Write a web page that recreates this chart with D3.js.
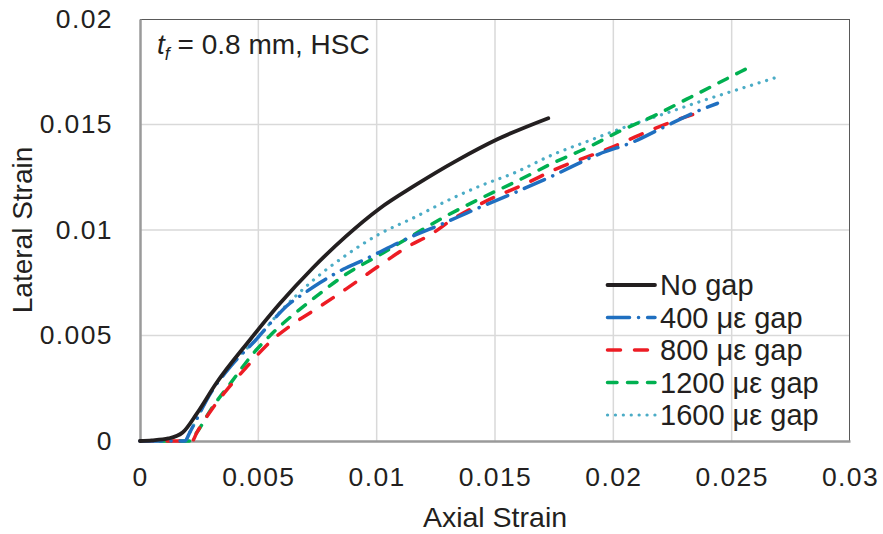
<!DOCTYPE html>
<html>
  <head>
    <meta http-equiv="Content-Type" content="text/html;charset=utf-8">
    <title>Axial vs lateral strain</title>
    <script src="https://d3js.org/d3.v7.min.js"></script>
    <style>
      html, body {
        margin: 0;
        padding: 0;
        background: #fff;
      }
      text {
        font-family: "Liberation Sans", Arial, sans-serif;
        fill: #231f20;
      }
      .grid line {
        stroke: #d9d9d9;
        stroke-width: 1.5px;
      }
      .series {
        fill: none;
        stroke-linejoin: round;
      }
    </style>
  </head>
  <body>
    <script type="text/javascript">

// values: [axial strain, lateral strain]
var noGap = [[0,0],[0.0005,0.00003],[0.0012,0.00012],[0.0018,0.0004],[0.0024,0.0013],[0.0032,0.0027],
  [0.00465,0.0048],[0.0059,0.0065],[0.0073,0.0082],[0.0087,0.0097],[0.0101,0.011],[0.0116,0.0121],
  [0.0134,0.0133],[0.0151,0.0143],[0.01725,0.0153]];
var gap400 = [[0,0],[0.0019,0],[0.0021,0.0004],[0.003,0.0023],[0.0038,0.0035],[0.0049,0.0048],
  [0.0056,0.0057],[0.0062,0.0064],[0.007,0.00705],[0.0076,0.0075],[0.0087,0.0082],[0.0093,0.0085],
  [0.0113,0.0096],[0.013,0.0104],[0.0138,0.0108],[0.0161,0.0119],[0.0175,0.0126],[0.0194,0.0136],
  [0.0209,0.0142],[0.022,0.0148],[0.0237,0.0157],[0.0244,0.016]];
var gap800 = [[0,0],[0.0022,0],[0.0024,0.0004],[0.0031,0.0016],[0.0038,0.0026],[0.0045,0.0035],
  [0.0055,0.0047],[0.0064,0.0055],[0.0075,0.0063],[0.0087,0.0072],[0.0101,0.0083],[0.0113,0.0092],
  [0.0123,0.0098],[0.0132,0.0105],[0.0145,0.0113],[0.0163,0.0122],[0.0176,0.0129],[0.0199,0.0139],
  [0.0211,0.0145],[0.0224,0.0151],[0.0237,0.0156]];
var gap1200 = [[0,0],[0.0021,0],[0.0024,0.0004],[0.003,0.0015],[0.0038,0.0027],[0.0049,0.0043],
  [0.0055,0.005],[0.0075,0.0069],[0.0087,0.0079],[0.0101,0.0088],[0.0116,0.0098],[0.013,0.0107],
  [0.0144,0.0115],[0.0159,0.0123],[0.0175,0.0132],[0.0189,0.0139],[0.0203,0.0147],[0.0217,0.0154],
  [0.0231,0.0162],[0.0245,0.017],[0.0259,0.0178]];
var gap1600 = [[0,0],[0.0019,0],[0.0021,0.0004],[0.003,0.0023],[0.0038,0.0036],[0.0049,0.0048],
  [0.0059,0.0061],[0.0073,0.0076],[0.0087,0.0088],[0.0101,0.0098],[0.0116,0.0106],[0.013,0.0114],
  [0.0144,0.0121],[0.0158,0.0127],[0.0175,0.0136],[0.0189,0.0142],[0.0203,0.0148],[0.0224,0.0156],
  [0.0237,0.0161],[0.0251,0.0166],[0.0268,0.0172]];

var seriesNames = ["No gap", "400 \u03bc\u03b5 gap", "800 \u03bc\u03b5 gap", "1200 \u03bc\u03b5 gap", "1600 \u03bc\u03b5 gap"];
var xTicks = [0, 0.005, 0.01, 0.015, 0.02, 0.025, 0.03];
var yTicks = [0, 0.005, 0.01, 0.015, 0.02];

var styles = [
  {color: "#231f20", width: 3.8, dash: null},
  {color: "#1f6fc0", width: 3.5, dash: "22 9 0.1 9"},
  {color: "#ed1c24", width: 3.5, dash: "13 14"},
  {color: "#00b050", width: 3.5, dash: "9.5 10.5"},
  {color: "#4bacc6", width: 3.2, dash: "0.1 7.8"}
];
var allSeries = [noGap, gap400, gap800, gap1200, gap1600];

var W = 883, H = 534;
var m = {left: 140, top: 19, right: 33, bottom: 93};
var w = W - m.left - m.right, h = H - m.top - m.bottom;

var svg = d3.select("body").append("svg")
  .attr("width", W)
  .attr("height", H);

var x = d3.scaleLinear().domain([0, 0.03]).range([0, w]);
var y = d3.scaleLinear().domain([0, 0.02]).range([h, 0]);

var g = svg.append("g").attr("transform", "translate(" + m.left + "," + m.top + ")");

// grid
g.append("g").attr("class", "grid")
  .selectAll("line").data(xTicks.slice(1, -1)).enter().append("line")
  .attr("x1", d => x(d)).attr("x2", d => x(d)).attr("y1", 0).attr("y2", h);
g.append("g").attr("class", "grid")
  .selectAll("line").data(yTicks.slice(1, -1)).enter().append("line")
  .attr("y1", d => y(d)).attr("y2", d => y(d)).attr("x1", 0).attr("x2", w);

// plot frame: top/right thin dark, left/bottom axis grey
g.append("line").attr("x1", 0).attr("x2", w).attr("y1", 0.5).attr("y2", 0.5)
  .attr("stroke", "#595959").attr("stroke-width", 1);
g.append("line").attr("x1", w - 0.5).attr("x2", w - 0.5).attr("y1", 0).attr("y2", h)
  .attr("stroke", "#595959").attr("stroke-width", 1);

// axes (labels only, no tick marks)
var xAxis = g.append("g").attr("transform", "translate(0," + h + ")")
  .call(d3.axisBottom(x).tickValues(xTicks).tickFormat(d3.format("")).tickSize(0).tickPadding(26));
var yAxis = g.append("g")
  .call(d3.axisLeft(y).tickValues(yTicks).tickFormat(d3.format("")).tickSize(0).tickPadding(27));
[xAxis, yAxis].forEach(function(a) {
  a.select(".domain").attr("stroke", "#9a9a9a").attr("stroke-width", 2.5);
  a.selectAll("text")
    .style("font-size", "26.5px")
    .style("letter-spacing", "1.4px")
    .attr("fill", "#231f20");
});

// lines
var line = d3.line()
  .x(d => x(d[0]))
  .y(d => y(d[1]))
  .curve(d3.curveMonotoneX);

[4, 3, 2, 1, 0].forEach(function(i) {
  var s = styles[i];
  g.append("path")
    .datum(allSeries[i])
    .attr("class", "series")
    .attr("d", line)
    .attr("stroke", s.color)
    .attr("stroke-width", s.width)
    .attr("stroke-linecap", "round")
    .attr("stroke-dasharray", s.dash);
});

// axis titles
svg.append("text")
  .attr("x", m.left + w / 2).attr("y", 527)
  .attr("text-anchor", "middle")
  .style("font-size", "28.5px")
  .text("Axial Strain");
svg.append("text")
  .attr("transform", "translate(32," + (m.top + h / 2) + ") rotate(-90)")
  .attr("text-anchor", "middle")
  .style("font-size", "28px")
  .text("Lateral Strain");

// annotation
var ann = svg.append("text").attr("x", 157).attr("y", 54).style("font-size", "28px");
ann.append("tspan").style("font-style", "italic").text("t");
ann.append("tspan").style("font-style", "italic").style("font-size", "18px").attr("dy", 6).text("f");
ann.append("tspan").attr("dy", -6).text(" = 0.8 mm, HSC");

// legend (no box)
var leg = svg.append("g").attr("transform", "translate(606,285)");
seriesNames.forEach(function(name, i) {
  var s = styles[i];
  var row = leg.append("g").attr("transform", "translate(0," + (i * 32.5) + ")");
  row.append("line")
    .attr("x1", 1.5).attr("x2", 49).attr("y1", 0).attr("y2", 0)
    .attr("stroke", s.color)
    .attr("stroke-width", s.width)
    .attr("stroke-linecap", "round")
    .attr("stroke-dasharray", s.dash);
  row.append("text")
    .attr("x", 54).attr("y", 10)
    .style("font-size", "29px")
    .text(name);
});

    </script>
  </body>
</html>
